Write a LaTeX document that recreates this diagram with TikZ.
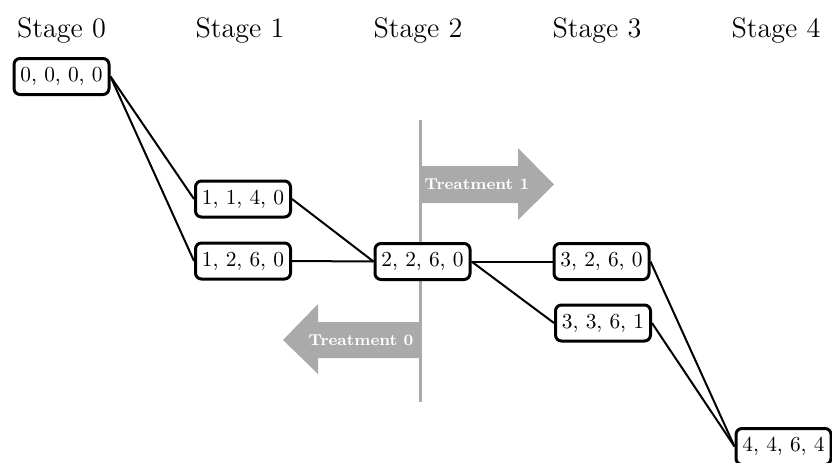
\documentclass[tikz,border=0pt]{standalone}
\usetikzlibrary{positioning}
\definecolor{tgray}{RGB}{170,170,170}
\tikzset{
  state/.style={draw=black, line width=1.5pt, rounded corners=3pt, fill=white,
    minimum width=47.5pt, minimum height=18pt, inner sep=0pt,
    font=\fontsize{10.7}{12}\selectfont},
  stagelbl/.style={anchor=base, inner sep=0pt, font=\fontsize{14.1}{16}\selectfont},
  link/.style={line width=1pt, black},
  treat/.style={inner sep=0pt, text=white, font=\fontsize{7.9}{9}\selectfont\bfseries},
  divider/.style={line width=1.5pt, tgray}
}
\begin{document}
\begin{tikzpicture}[x=0.5pt, y=-0.5pt]
\useasboundingbox (0,0) rectangle (832,462);
% stage labels
\node[stagelbl] (s0) at (61.5,37) {Stage 0};
\node[stagelbl] (s1) at (240,37) {Stage 1};
\node[stagelbl] (s2) at (418,37) {Stage 2};
\node[stagelbl] (s3) at (597,37) {Stage 3};
\node[stagelbl] (s4) at (776,37) {Stage 4};
% divider and treatment arrows
\coordinate (dtop) at (420.5,120);
\coordinate (dbot) at (420.5,402);
\draw[divider] (dtop) -- (dbot);
\fill[tgray] (420,166) -- (518,166) -- (518,148) -- (554,184.5) -- (518,220) -- (518,203) -- (420,203) -- cycle;
\fill[tgray] (421,322) -- (318,322) -- (318,304) -- (283,340) -- (318,374) -- (318,358) -- (421,358) -- cycle;
\node[treat] (t1) at (477,184.5) {Treatment 1};
\node[treat] (t0) at (361,340) {Treatment 0};
% states
\node[state] (n0) at (61.5,76.5) {0, 0, 0, 0};
\node[state] (n11) at (243,199) {1, 1, 4, 0};
\node[state] (n12) at (243,261) {1, 2, 6, 0};
\node[state] (n2) at (422.5,261.5) {2, 2, 6, 0};
\node[state] (n31) at (601.5,261.5) {3, 2, 6, 0};
\node[state] (n32) at (603,323) {3, 3, 6, 1};
\node[state] (n4) at (783.5,446.5) {4, 4, 6, 4};
% connectors
\draw[link] (n0.east) -- (n11.west);
\draw[link] (n0.east) -- (n12.west);
\draw[link] (n11.east) -- (n2.west);
\draw[link] (n12.east) -- (n2.west);
\draw[link] (n2.east) -- (n31.west);
\draw[link] (n2.east) -- (n32.west);
\draw[link] (n31.east) -- (n4.west);
\draw[link] (n32.east) -- (n4.west);
\end{tikzpicture}
\end{document}
